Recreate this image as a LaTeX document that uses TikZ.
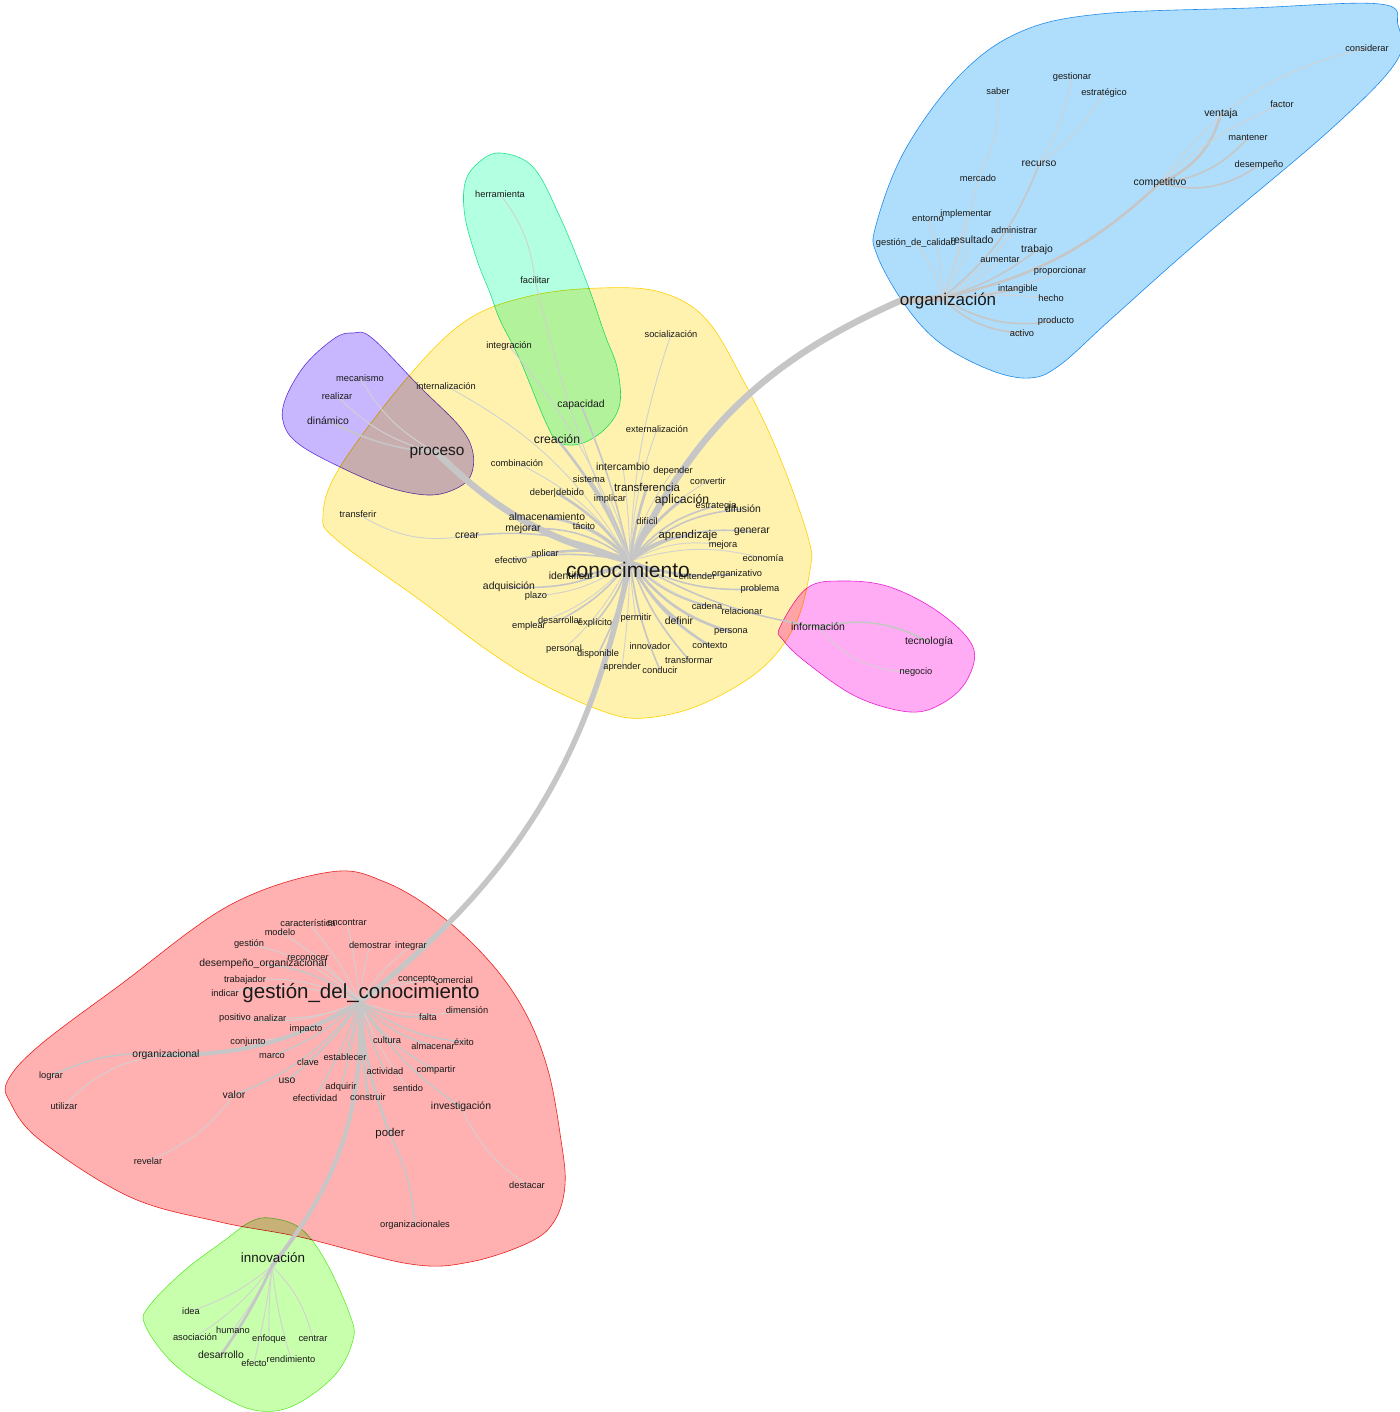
\documentclass[tikz,border=0pt]{standalone}
\usepackage{fontspec}
\setmainfont{Liberation Sans}
\definecolor{edgegray}{RGB}{198,198,198}
\definecolor{ink}{RGB}{25,25,25}
\definecolor{yfill}{RGB}{255,242,175}\definecolor{ydraw}{RGB}{255,215,0}
\definecolor{bfill}{RGB}{175,222,252}\definecolor{bdraw}{RGB}{40,150,235}
\definecolor{tfill}{RGB}{178,255,226}\definecolor{tdraw}{RGB}{40,230,150}
\definecolor{pfill}{RGB}{200,183,255}\definecolor{pdraw}{RGB}{110,60,220}
\definecolor{mfill}{RGB}{255,172,245}\definecolor{mdraw}{RGB}{235,40,215}
\definecolor{rfill}{RGB}{255,177,177}\definecolor{rdraw}{RGB}{235,40,40}
\definecolor{gfill}{RGB}{200,255,172}\definecolor{gdraw}{RGB}{110,235,60}
\pgfdeclarelayer{hulls}
\pgfdeclarelayer{edges}
\pgfsetlayers{hulls,edges,main}
\newcommand\fsz[1]{\fontsize{#1}{#1}\selectfont}
\tikzset{
  w/.style={inner sep=0pt, text=ink},
  ws/.style={w, font=\fsz{9.3}},
  wm/.style={w, font=\fsz{10.4}},
  wl/.style={w, font=\fsz{11.4}},
  wx/.style={w, font=\fsz{12.2}},
  e0/.style={draw=edgegray!80, line width=0.9pt, line cap=round},
  e1/.style={draw=edgegray, line width=1.6pt, line cap=round},
  e2/.style={draw=edgegray, line width=2.6pt, line cap=round},
  e3/.style={draw=edgegray, line width=4pt, line cap=round},
  e4/.style={draw=edgegray, line width=6.5pt, line cap=round},
  hull/.style 2 args={fill=#1, draw=#2, line width=0.6pt, blend mode=multiply},
}
\begin{document}
\begin{tikzpicture}[x=1pt,y=-1pt]
\useasboundingbox (0,0) rectangle (1399,1412);

% ---------- cluster hulls ----------
\begin{pgfonlayer}{hulls}
\path[hull={yfill}{ydraw}] plot[smooth cycle, tension=0.6] coordinates {
 (600,288) (660,292) (705,318) (742,378) (778,453) (808,537) (810,570) (795,625)
 (760,670) (700,705) (645,718) (605,712) (540,683) (487,650) (420,600) (337,540)
 (323,515) (340,467) (408,377) (467,320) (530,296)};
\path[hull={bfill}{bdraw}] plot[smooth cycle, tension=0.6] coordinates {
 (1020,32) (1100,14) (1250,8) (1380,4) (1398,25) (1396,62) (1330,130) (1200,240)
 (1110,320) (1060,365) (1030,378) (990,370) (940,343) (905,305) (877,255) (876,225)
 (905,150) (960,75)};
\path[hull={tfill}{tdraw}] plot[smooth cycle, tension=0.6] coordinates {
 (500,153) (533,167) (560,217) (587,283) (605,335) (617,367) (620,403) (607,427)
 (583,443) (560,443) (547,425) (520,360) (500,320) (490,293) (477,260) (465,217)
 (465,183) (478,163)};
\path[hull={pfill}{pdraw}] plot[smooth cycle, tension=0.6] coordinates {
 (353,333) (372,338) (420,387) (460,427) (473,453) (470,477) (453,490) (427,495)
 (387,487) (340,467) (300,445) (284,425) (285,400) (305,365) (335,338)};
\path[hull={mfill}{mdraw}] plot[smooth cycle, tension=0.6] coordinates {
 (780,627) (807,588) (843,581) (890,587) (940,613) (973,647) (967,680) (943,703)
 (910,712) (857,697) (807,663) (783,640)};
\path[hull={rfill}{rdraw}] plot[smooth cycle, tension=0.6] coordinates {
 (330,872) (385,882) (440,915) (490,962) (525,1012) (548,1070) (561,1140)
 (565,1185) (555,1220) (530,1242) (470,1262) (410,1264) (300,1237)
 (220,1222) (130,1197) (40,1140) (10,1102) (8,1080) (40,1045) (120,985) (230,905)};
\path[hull={gfill}{gdraw}] plot[smooth cycle, tension=0.6] coordinates {
 (270,1218) (300,1228) (325,1260) (350,1315) (353,1340) (335,1375) (295,1405)
 (260,1411) (225,1398) (175,1365) (145,1325) (150,1305) (185,1270) (225,1240)
 (250,1222)};
\end{pgfonlayer}

% ---------- hub points ----------
\coordinate (kc) at (630,561);
\coordinate (og) at (942,298);
\coordinate (gc) at (360,1002);
\coordinate (ic) at (272,1266);

% ---------- organización cluster ----------
\node[w, font=\fsz{17}] (organizacion) at (948,301) {organización};
\node[ws] (considerar) at (1367,48) {considerar};
\node[ws] (gestionar) at (1072,77) {gestionar};
\node[ws] (saber) at (998,91) {saber};
\node[ws] (estrategico) at (1104,93) {estratégico};
\node[ws] (factor) at (1282,104) {factor};
\node[wm] (ventaja) at (1221,114) {ventaja};
\node[ws] (mantener) at (1248,138) {mantener};
\node[wm] (recurso) at (1039,164) {recurso};
\node[ws] (desempeno) at (1259,165) {desempeño};
\node[ws] (mercado) at (978,178) {mercado};
\node[wm] (competitivo) at (1160,183) {competitivo};
\node[ws] (entorno) at (928,219) {entorno};
\node[ws] (implementar) at (966,214) {implementar};
\node[ws] (administrar) at (1014,230) {administrar};
\node[ws] (gestcal) at (916,243) {gestión\_de\_calidad};
\node[wm] (resultado) at (972,240) {resultado};
\node[wm] (trabajo) at (1037,250) {trabajo};
\node[ws] (aumentar) at (1000,260) {aumentar};
\node[ws] (proporcionar) at (1060,271) {proporcionar};
\node[ws] (intangible) at (1018,289) {intangible};
\node[ws] (hecho) at (1051,298) {hecho};
\node[ws] (producto) at (1056,321) {producto};
\node[ws] (activo) at (1022,333) {activo};

% ---------- herramienta / proceso clusters ----------
\node[ws] (herramienta) at (500,194) {herramienta};
\node[ws] (facilitar) at (535,280) {facilitar};
\node[ws] (mecanismo) at (360,378) {mecanismo};
\node[ws] (realizar) at (337,396) {realizar};
\node[wm] (dinamico) at (328,421) {dinámico};
\node[w, font=\fsz{15.4}] (proceso) at (437,453) {proceso};

% ---------- conocimiento cluster ----------
\node[w, font=\fsz{21}] (conocimiento) at (628,570) {conocimiento};
\node[ws] (soc) at (671,334) {socialización};
\node[ws] (integ) at (509,346) {integración};
\node[ws] (intern) at (446,386) {internalización};
\node[wm] (capac) at (581,405) {capacidad};
\node[ws] (extern) at (657,429) {externalización};
\node[wx] (creac) at (557,439) {creación};
\node[ws] (combin) at (517,463) {combinación};
\node[wm] (interc) at (623,467) {intercambio};
\node[ws] (depend) at (673,471) {depender};
\node[ws] (sistema) at (589,479) {sistema};
\node[ws] (convert) at (708,481) {convertir};
\node[wl] (transf) at (647,487) {transferencia};
\node[ws] (deber) at (557,493) {deber|debido};
\node[ws] (implicar) at (610,499) {implicar};
\node[wx] (aplicac) at (682,500) {aplicación};
\node[ws] (estrat) at (716,506) {estrategia};
\node[wm] (difusion) at (743,509) {difusión};
\node[ws] (transferir) at (358,514) {transferir};
\node[wm] (almac) at (547,517) {almacenamiento};
\node[ws] (tacito) at (584,526) {tácito};
\node[ws] (dificil) at (647,521) {difícil};
\node[wm] (mejorar) at (523,529) {mejorar};
\node[wm] (generar) at (752,532) {generar};
\node[wl] (aprend) at (688,536) {aprendizaje};
\node[wm] (crear) at (467,536) {crear};
\node[ws] (mejora) at (723,545) {mejora};
\node[ws] (aplicar) at (545,554) {aplicar};
\node[ws] (efectivo) at (511,560) {efectivo};
\node[ws] (economia) at (763,558) {economía};
\node[wm] (identif) at (571,576) {identificar};
\node[ws] (entender) at (697,576) {entender};
\node[ws] (organiz) at (737,574) {organizativo};
\node[wm] (adquis) at (509,587) {adquisición};
\node[ws] (problema) at (760,589) {problema};
\node[ws] (plazo) at (536,596) {plazo};
\node[ws] (cadena) at (707,606) {cadena};
\node[ws] (relac) at (742,611) {relacionar};
\node[ws] (permitir) at (636,618) {permitir};
\node[ws] (desarr) at (560,620) {desarrollar};
\node[ws] (explic) at (595,623) {explícito};
\node[wm] (definir) at (679,621) {definir};
\node[ws] (emplear) at (529,626) {emplear};
\node[ws] (persona) at (731,632) {persona};
\node[ws] (innovador) at (650,646) {innovador};
\node[ws] (contexto) at (710,646) {contexto};
\node[ws] (personal) at (564,649) {personal};
\node[ws] (dispon) at (598,654) {disponible};
\node[ws] (transform) at (689,660) {transformar};
\node[ws] (aprender) at (622,667) {aprender};
\node[ws] (conducir) at (660,670) {conducir};

% ---------- información cluster ----------
\node[wm] (informacion) at (818,627) {información};
\node[wm] (tecnologia) at (929,642) {tecnología};
\node[ws] (negocio) at (916,672) {negocio};

% ---------- gestión del conocimiento cluster ----------
\node[w, font=\fsz{20.5}] (gestion) at (361,993) {gestión\_del\_conocimiento};
\node[ws] (caract) at (308,923) {característica};
\node[ws] (encontrar) at (347,923) {encontrar};
\node[ws] (modelo) at (280,932) {modelo};
\node[ws] (gestionw) at (249,944) {gestión};
\node[ws] (demostrar) at (370,945) {demostrar};
\node[ws] (integrar) at (411,946) {integrar};
\node[ws] (reconocer) at (308,958) {reconocer};
\node[wm] (desorg) at (263,964) {desempeño\_organizacional};
\node[ws] (trabajador) at (245,980) {trabajador};
\node[ws] (concepto) at (417,979) {concepto};
\node[ws] (comercial) at (453,980) {comercial};
\node[ws] (indicar) at (225,993) {indicar};
\node[ws] (dimension) at (467,1010) {dimensión};
\node[ws] (positivo) at (235,1018) {positivo};
\node[ws] (analizar) at (270,1018) {analizar};
\node[ws] (falta) at (428,1017) {falta};
\node[ws] (impacto) at (306,1029) {impacto};
\node[ws] (conjunto) at (248,1042) {conjunto};
\node[ws] (cultura) at (387,1040) {cultura};
\node[ws] (almacenar) at (433,1046) {almacenar};
\node[ws] (exito) at (464,1042) {éxito};
\node[wm] (orgcional) at (166,1055) {organizacional};
\node[ws] (marco) at (272,1056) {marco};
\node[ws] (clave) at (308,1062) {clave};
\node[ws] (establecer) at (345,1057) {establecer};
\node[ws] (actividad) at (385,1071) {actividad};
\node[ws] (compartir) at (436,1070) {compartir};
\node[ws] (lograr) at (51,1076) {lograr};
\node[wm] (uso) at (287,1081) {uso};
\node[ws] (adquirir) at (341,1087) {adquirir};
\node[ws] (sentido) at (408,1088) {sentido};
\node[wm] (valor) at (234,1095) {valor};
\node[ws] (efectividad) at (315,1098) {efectividad};
\node[ws] (construir) at (368,1097) {construir};
\node[ws] (utilizar) at (64,1106) {utilizar};
\node[wm] (investig) at (461,1107) {investigación};
\node[wl] (poder) at (390,1134) {poder};
\node[ws] (revelar) at (148,1161) {revelar};
\node[ws] (destacar) at (527,1185) {destacar};
\node[ws] (orgcionales) at (415,1225) {organizacionales};

% ---------- innovación cluster ----------
\node[w, font=\fsz{13.4}] (innovacion) at (273,1258) {innovación};
\node[ws] (idea) at (191,1311) {idea};
\node[ws] (humano) at (233,1330) {humano};
\node[ws] (asociacion) at (195,1337) {asociación};
\node[ws] (enfoque) at (269,1339) {enfoque};
\node[ws] (centrar) at (313,1339) {centrar};
\node[wm] (desarrollo) at (221,1355) {desarrollo};
\node[ws] (efecto) at (254,1363) {efecto};
\node[ws] (rendimiento) at (291,1359) {rendimiento};

% ---------- connectors ----------
\begin{pgfonlayer}{edges}
% backbone between the clusters
\draw[e4] (proceso.center) to[bend left=-15] (kc);
\draw[e4] (kc) to[bend left=20] (organizacion.west);
\draw[e4] (organizacion.west) -- (og);
\draw[e4, line width=5.5pt] (kc) to[bend left=20] (gc);
\draw[e3] (gc) to[bend left=20] (ic);
\draw[e1] (kc) to[bend left=-10] (informacion.center);
\draw[e1] (informacion.center) to[bend left=20] (tecnologia.center);
\draw[e0] (informacion.center) to[bend left=-25] (negocio.center);

% conocimiento
\foreach \n/\b in {soc/8, integ/-10, intern/-15, extern/8, combin/-15, interc/-3,
  depend/10, convert/15, implicar/-5, dificil/8, mejora/18, economia/15, plazo/15,
  relac/-18, permitir/-3, emplear/15, innovador/-5, personal/10, aprender/3}
  \draw[e0] (kc) to[bend left=\b] (\n.center);
\foreach \n/\b in {capac/-5, estrat/18, difusion/20, tacito/-12, mejorar/-20,
  generar/20, efectivo/-10, entender/-10, organiz/-12, adquis/15, problema/-15,
  cadena/-15, desarr/12, explic/10, dispon/8, transform/-10, conducir/-8, crear/-15}
  \draw[e1] (kc) to[bend left=\b] (\n.center);
\foreach \n/\b in {creac/-8, sistema/-8, transf/5, deber/-12, aplicac/12, almac/-18,
  aprend/18, aplicar/-15, identif/10, definir/-12, persona/-18, contexto/-15}
  \draw[e2] (kc) to[bend left=\b] (\n.center);
\draw[e0] (transferir.center) to[bend left=-20] (crear.center);
\draw[e0] (herramienta.center) to[bend left=15] (facilitar.center);
\draw[e0] (facilitar.center) to[bend left=-5] (kc);

% proceso
\draw[e0] (mecanismo.center) to[bend left=-15] (proceso.center);
\draw[e0] (realizar.center) to[bend left=-15] (proceso.center);
\draw[e1] (dinamico.center) to[bend left=-10] (proceso.center);

% organización
\foreach \n/\b in {mercado/-5, entorno/-10, implementar/-5, gestcal/-10,
  administrar/-10, resultado/-5, aumentar/-10, proporcionar/-10, hecho/5}
  \draw[e0] (og) to[bend left=\b] (\n.center);
\foreach \n/\b in {recurso/-15, trabajo/-10, intangible/-5, producto/-20, activo/-20}
  \draw[e1] (og) to[bend left=\b] (\n.center);
\draw[e2] (og) to[bend left=-15] (competitivo.center);
\draw[e2] (competitivo.center) to[bend left=-25] (ventaja.center);
\draw[e1] (competitivo.center) to[bend left=-20] (mantener.center);
\draw[e1] (competitivo.center) to[bend left=-25] (desempeno.center);
\draw[e0] (competitivo.center) to[bend left=10] (factor.center);
\draw[e0] (competitivo.center) to[bend left=20] (considerar.center);
\draw[e0] (recurso.center) to[bend left=-10] (gestionar.center);
\draw[e0] (recurso.center) to[bend left=-10] (estrategico.center);
\draw[e0] (mercado.center) to[bend left=-15] (saber.center);

% gestión del conocimiento
\foreach \n/\b in {caract/-8, encontrar/-3, modelo/-10, gestionw/-15, demostrar/5,
  integrar/10, reconocer/-10, trabajador/-15, concepto/12, comercial/15, indicar/-15,
  dimension/-15, positivo/15, analizar/12, conjunto/15, sentido/-8}
  \draw[e0] (gc) to[bend left=\b] (\n.center);
\foreach \n/\b in {desorg/-15, falta/-15, impacto/10, cultura/-8, almacenar/-15,
  exito/-15, marco/10, clave/8, establecer/3, actividad/-5, compartir/-15, uso/8,
  adquirir/3, valor/15, efectividad/5, investig/-12}
  \draw[e1] (gc) to[bend left=\b] (\n.center);
\draw[e2] (gc) to[bend left=-3] (construir.center);
\draw[e2] (gc) to[bend left=-8] (poder.center);
\draw[e3] (gc) to[bend left=15] (orgcional.center);
\draw[e1] (poder.center) to[bend left=10] (orgcionales.center);
\draw[e0] (investig.center) to[bend left=-15] (destacar.center);
\draw[e1] (orgcional.center) to[bend left=-15] (lograr.center);
\draw[e0] (orgcional.center) to[bend left=-20] (utilizar.center);
\draw[e0] (valor.center) to[bend left=15] (revelar.center);

% innovación
\foreach \n/\b in {idea/10, humano/5, asociacion/10, enfoque/-3, centrar/15,
  efecto/3, rendimiento/-5}
  \draw[e0] (ic) to[bend left=\b] (\n.center);
\draw[e2] (ic) to[bend left=5] (desarrollo.center);
\end{pgfonlayer}
\end{tikzpicture}
\end{document}
